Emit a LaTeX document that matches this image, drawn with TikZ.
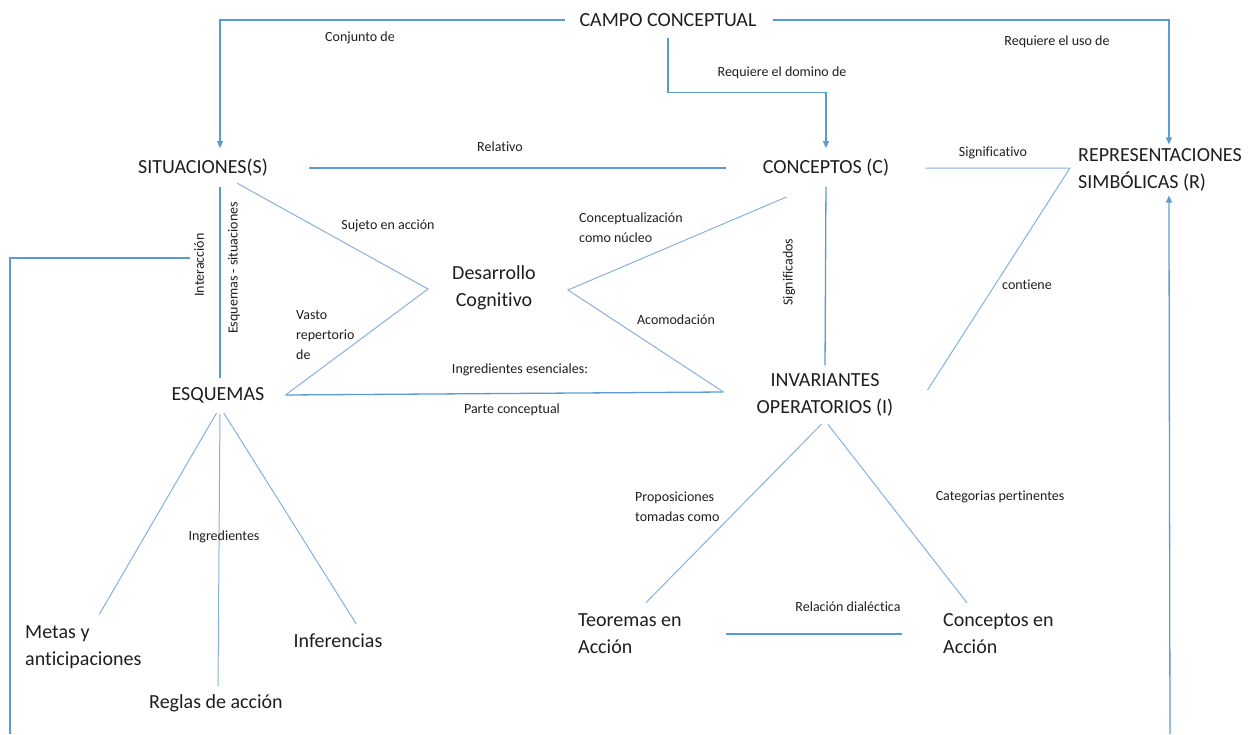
\documentclass[tikz,border=0pt]{standalone}
\usepackage{fontspec}
\setmainfont[Ligatures=NoCommon]{Carlito}
\usetikzlibrary{arrows.meta}
\definecolor{linkblue}{HTML}{5B9BD5}
\definecolor{lightlink}{HTML}{86B0DF}
\definecolor{ink}{HTML}{1E1E1E}
\begin{document}
\begin{tikzpicture}[x=1pt,y=-1pt,
  every node/.style={text=ink, inner sep=4pt},
  bigtext/.style={font=\fontsize{20}{27}\selectfont},
  smalltext/.style={font=\fontsize{14}{20}\selectfont},
  link/.style={draw=linkblue, line width=1.3pt},
  diag/.style={draw=lightlink, line width=1pt},
  arrowlink/.style={link, -{Triangle[length=7pt,width=6pt]}}
]
\useasboundingbox (0,0) rectangle (1258,734);

% main concepts
\node[bigtext] (campo) at (668,20) {CAMPO CONCEPTUAL};
\node[bigtext] (sit) at (203,168) {SITUACIONES(S)};
\node[bigtext] (conc) at (826,168) {CONCEPTOS (C)};
\node[bigtext, anchor=west, align=left] (rep) at (1074,170) {REPRESENTACIONES\\SIMBÓLICAS (R)};
\node[bigtext, align=center] (des) at (494,288) {Desarrollo\\Cognitivo};
\node[bigtext] (esq) at (218,395) {ESQUEMAS};
\node[bigtext, align=center] (inv) at (825,395) {INVARIANTES\\OPERATORIOS (I)};
\node[bigtext, anchor=west, align=left] (metas) at (21,647) {Metas y\\anticipaciones};
\node[bigtext] (reglas) at (216,703) {Reglas de acción};
\node[bigtext] (inf) at (338,641) {Inferencias};
\node[bigtext, anchor=west, align=left] (teo) at (574,634) {Teoremas en\\Acción};
\node[bigtext, anchor=west, align=left] (cea) at (939,634) {Conceptos en\\Acción};

% free ends and bends
\coordinate (lbot) at (10,734);
\coordinate (rbot) at (1170,734);
\coordinate (sigbend) at (1070,168);
\coordinate (dl) at (428,289);
\coordinate (dr) at (568,290);
\coordinate (esqE) at ([xshift=17pt]esq.east);
\coordinate (invW) at ([xshift=-29pt,yshift=3pt]inv.west);

% links from the conceptual field
\draw[arrowlink, shorten <=10pt, shorten >=7pt] (campo.west) -| ([xshift=17pt]sit.north);
\draw[arrowlink, shorten <=7pt, shorten >=7pt] (campo.south) -- ++(0,62) -| (conc.north);
\draw[arrowlink, shorten <=12pt] (campo.east) -| ([xshift=9pt]rep.north);

% links between the three sets
\draw[link, shorten <=37pt, shorten >=33pt] (sit.east) -- (conc.west);
\draw[diag, shorten <=32pt] (conc.east) -- (sigbend) -- ([xshift=30pt,yshift=5pt]inv.east);
\draw[link, shorten <=6pt, shorten >=4pt] (conc.south) -- (inv.north);
\draw[arrowlink] (rbot) -- ([xshift=9pt]rep.south);

% situations and schemes
\draw[link, shorten <=6pt, shorten >=5pt] ([xshift=17pt]sit.south) -- ([xshift=2pt]esq.north);
\node[smalltext, rotate=90] (inter) at (199,265) {Interacción};
\draw[link] ([yshift=7pt]inter.north) -| (lbot);

% cognitive development
\draw[diag, shorten <=5pt] ([xshift=30pt]sit.south) -- (dl) -- (esqE);
\draw[link] (esqE) -- (invW);
\draw[diag] ([xshift=28pt,yshift=-16pt]conc.south west) -- (dr) -- (invW);

% ingredients of schemes
\draw[diag, shorten <=7pt, shorten >=8pt] ([xshift=2pt]esq.south) -- ([xshift=12pt]metas.north);
\draw[diag, shorten <=7pt, shorten >=4pt] ([xshift=2pt]esq.south) -- ([xshift=2pt]reglas.north);
\draw[diag, shorten <=7pt, shorten >=7pt] ([xshift=2pt]esq.south) -- ([xshift=22pt]inf.north);

% operational invariants
\draw[diag, shorten <=5pt, shorten >=10pt] (inv.south) -- ([xshift=9pt]teo.north);
\draw[diag, shorten <=5pt, shorten >=9pt] (inv.south) -- ([xshift=-26pt]cea.north);
\draw[link, shorten <=40pt, shorten >=37pt] (teo.east) -- (cea.west);

% link labels
\node[smalltext] (l1) at (360,38) {Conjunto de};
\node[smalltext] (l2) at (782,73) {Requiere el domino de};
\node[smalltext] (l3) at (1057,42) {Requiere el uso de};
\node[smalltext] (l4) at (500,147) {Relativo};
\node[smalltext] (l5) at (993,153) {Significativo};
\node[smalltext] (l6) at (1027,285) {contiene};
\node[smalltext] (l7) at (388,226) {Sujeto en acción};
\node[smalltext, anchor=west, align=left] (l8) at (292,335) {Vasto\\repertorio\\de};
\node[smalltext, anchor=west, align=left] (l9) at (575,228) {Conceptualización\\como núcleo};
\node[smalltext] (l10) at (676,320) {Acomodación};
\node[smalltext] (l11) at (520,370) {Ingredientes esenciales:};
\node[smalltext] (l12) at (512,410) {Parte conceptual};
\node[smalltext, rotate=90] (l13) at (789,272) {Significados};
\node[smalltext, rotate=90] (l14) at (234,268) {Esquemas - situaciones};
\node[smalltext] (l15) at (224,537) {Ingredientes};
\node[smalltext, anchor=west, align=left] (l16) at (631,507) {Proposiciones\\tomadas como};
\node[smalltext] (l17) at (1000,497) {Categorias pertinentes};
\node[smalltext] (l18) at (848,607) {Relación dialéctica};
\end{tikzpicture}
\end{document}
